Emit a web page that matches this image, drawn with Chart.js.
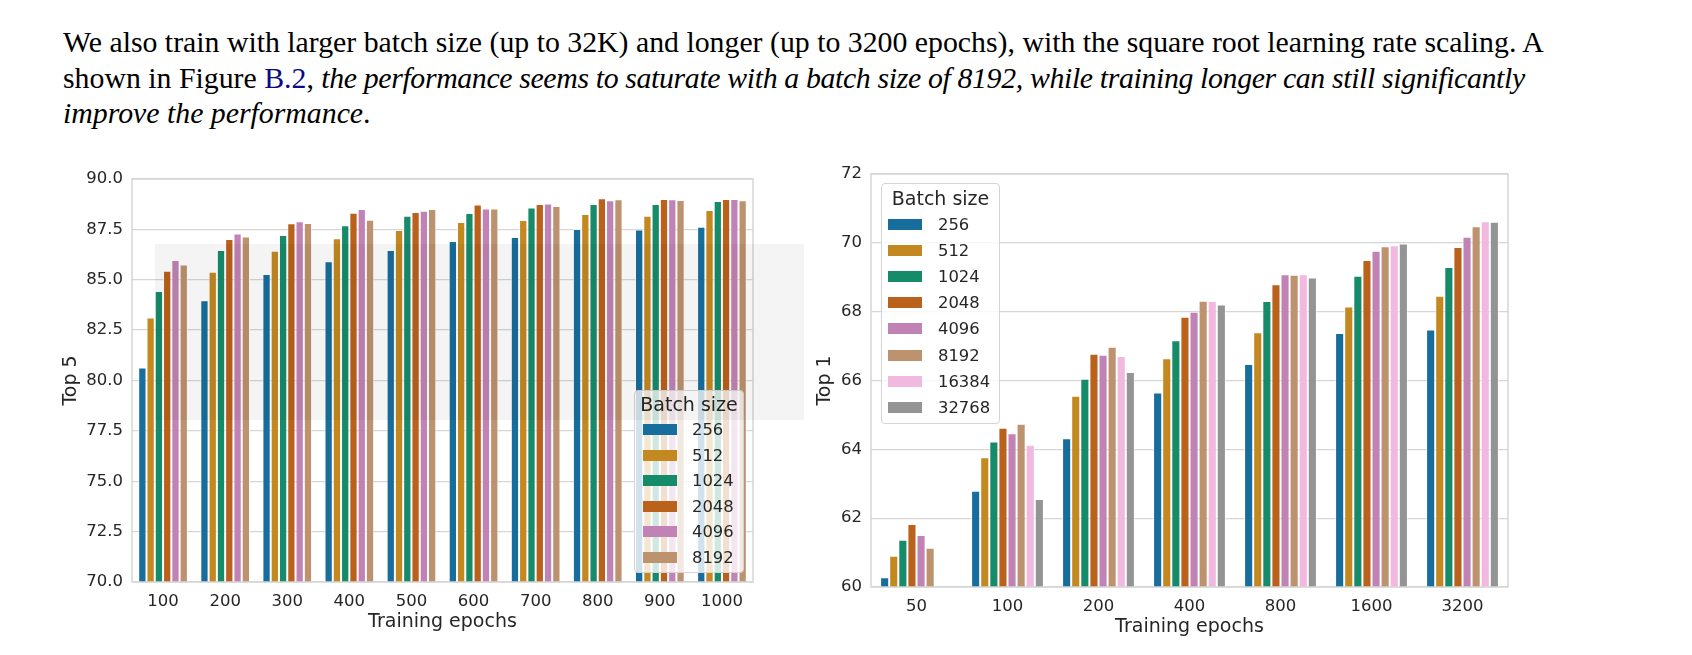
<!DOCTYPE html>
<html>
<head>
<meta charset="utf-8">
<script src="https://cdn.jsdelivr.net/npm/chart.js@4.4.0/dist/chart.umd.min.js"></script>
<style>
  body { margin: 0; width: 1692px; height: 655px; background: #fff; position: relative; overflow: hidden; font-family: "DejaVu Sans", sans-serif; }
  .para { position: absolute; left: 63px; font-family: "Liberation Serif", serif; font-size: 29.8px; line-height: 34px; white-space: nowrap; color: #000; }
  .para i.tight { letter-spacing: -0.35px; }
  .link { color: #0b0b85; }
  .chartbox { position: absolute; }
  .legend { position: absolute; background: rgba(255,255,255,0.8); border: 1px solid #d4d4d4; border-radius: 4px; box-sizing: border-box; color: #262626; }
  .legend .ltitle { position: absolute; left: 0; right: 0; text-align: center; font-size: 19px; line-height: 22px; }
  .legend .row { position: absolute; left: 0; right: 0; height: 22px; }
  .legend .sw { position: absolute; width: 34px; height: 11px; top: 5px; }
  .legend .lab { position: absolute; font-size: 16.4px; line-height: 22px; top: 0; }
  .haze { position: absolute; left: 155px; top: 244px; width: 649px; height: 176px; background: rgba(0,0,0,0.045); pointer-events: none; }
</style>
</head>
<body>

<div class="para" style="top:25px">We also train with larger batch size (up to 32K) and longer (up to 3200 epochs), with the square root learning rate scaling. A</div>
<div class="para" style="top:60.5px">shown in Figure <span class="link">B.2</span>, <i class="tight">the performance seems to saturate with a batch size of 8192, while training longer can still significantly</i></div>
<div class="para" style="top:96px"><i>improve the performance</i>.</div>

<div class="chartbox" style="left:0px;top:150px"><canvas id="top5" width="780" height="490"></canvas></div>
<div class="chartbox" style="left:790px;top:150px"><canvas id="top1" width="760" height="495"></canvas></div>

<div class="legend" id="leg5" style="left:634px;top:390px;width:110px;height:183px"></div>
<div class="legend" id="leg1" style="left:881px;top:183px;width:119px;height:241px"></div>

<div class="haze"></div>

<script>
// batch sizes and their colours (seaborn colorblind, desaturated)
const batchSizes = ['256', '512', '1024', '2048', '4096', '8192', '16384', '32768'];
const barColors = ['#176d9c', '#c38820', '#168b6a', '#ba611b', '#c183b5', '#bd926e', '#f1b8e0', '#949494'];

// left: Top 5 accuracy
const epochsTop5 = ['100', '200', '300', '400', '500', '600', '700', '800', '900', '1000'];
const top5_256  = [80.65, 83.98, 85.29, 85.92, 86.48, 86.92, 87.12, 87.52, 87.50, 87.63];
const top5_512  = [83.13, 85.40, 86.44, 87.06, 87.47, 87.87, 87.97, 88.26, 88.18, 88.46];
const top5_1024 = [84.44, 86.48, 87.22, 87.70, 88.18, 88.31, 88.59, 88.76, 88.76, 88.91];
const top5_2048 = [85.45, 87.02, 87.80, 88.33, 88.36, 88.73, 88.76, 89.04, 89.01, 89.01];
const top5_4096 = [85.98, 87.30, 87.90, 88.51, 88.43, 88.54, 88.78, 88.94, 88.99, 89.01];
const top5_8192 = [85.76, 87.15, 87.82, 87.98, 88.51, 88.54, 88.66, 88.99, 88.96, 88.94];
const top5Ticks = [70.0, 72.5, 75.0, 77.5, 80.0, 82.5, 85.0, 87.5, 90.0];

// right: Top 1 accuracy
const epochsTop1 = ['50', '100', '200', '400', '800', '1600', '3200'];
const top1_256   = [60.28, 62.80, 64.32, 65.65, 66.48, 67.38, 67.48];
const top1_512   = [60.91, 63.77, 65.56, 66.65, 67.40, 68.15, 68.46];
const top1_1024  = [61.37, 64.23, 66.05, 67.17, 68.31, 69.04, 69.30];
const top1_2048  = [61.83, 64.63, 66.78, 67.85, 68.80, 69.50, 69.88];
const top1_4096  = [61.51, 64.47, 66.75, 68.00, 69.09, 69.77, 70.18];
const top1_8192  = [61.14, 64.74, 66.98, 68.32, 69.07, 69.90, 70.48];
const top1_16384 = [null, 64.13, 66.71, 68.31, 69.09, 69.93, 70.63];
const top1_32768 = [null, 62.56, 66.25, 68.21, 68.99, 69.98, 70.61];
const top1Ticks = [60, 62, 64, 66, 68, 70, 72];

const textColor = '#262626';
const gridColor = '#d6d6d6';

// seaborn style frame round the plot area
const framePlugin = {
  id: 'frame',
  afterDatasetsDraw(chart) {
    const a = chart.chartArea;
    const ctx = chart.ctx;
    ctx.save();
    ctx.strokeStyle = gridColor;
    ctx.lineWidth = 1.5;
    ctx.strokeRect(a.left, a.top, a.right - a.left, a.bottom - a.top);
    ctx.restore();
  }
};

function makeDatasets(seriesList) {
  return seriesList.map((values, i) => ({
    label: batchSizes[i],
    data: values,
    backgroundColor: barColors[i],
    borderColor: 'rgba(255,255,255,0.7)',
    borderWidth: 1,
    categoryPercentage: 0.8,
    barPercentage: 1.0
  }));
}

function makeChart(id, labels, seriesList, yTicks, yTitle, fmt, pad, yWidth, xHeight) {
  new Chart(document.getElementById(id), {
    type: 'bar',
    data: { labels: labels, datasets: makeDatasets(seriesList) },
    options: {
      responsive: false,
      animation: false,
      layout: { padding: pad },
      plugins: { legend: { display: false }, tooltip: { enabled: false } },
      scales: {
        x: {
          grid: { display: false, drawTicks: false },
          border: { display: false },
          ticks: { color: textColor, font: { family: 'DejaVu Sans', size: 16.5 }, padding: 10 },
          title: { display: true, text: 'Training epochs', color: textColor, font: { family: 'DejaVu Sans', size: 19 } },
          afterFit: s => { s.height = xHeight; }
        },
        y: {
          min: yTicks[0],
          max: yTicks[yTicks.length - 1],
          afterBuildTicks: s => { s.ticks = yTicks.map(v => ({ value: v })); },
          grid: { color: gridColor, lineWidth: 1.3, drawTicks: false },
          border: { display: false },
          ticks: { color: textColor, font: { family: 'DejaVu Sans', size: 16.5 }, padding: 9, callback: v => fmt(v) },
          title: { display: true, text: yTitle, color: textColor, font: { family: 'DejaVu Sans', size: 19 } },
          afterFit: s => { s.width = yWidth; }
        }
      }
    },
    plugins: [framePlugin]
  });
}

makeChart('top5', epochsTop5,
  [top5_256, top5_512, top5_1024, top5_2048, top5_4096, top5_8192],
  top5Ticks, 'Top 5', v => v.toFixed(1),
  { left: 56, top: 29, right: 27, bottom: 3 }, 76, 55);

makeChart('top1', epochsTop1,
  [top1_256, top1_512, top1_1024, top1_2048, top1_4096, top1_8192, top1_16384, top1_32768],
  top1Ticks, 'Top 1', v => String(v),
  { left: 20, top: 24, right: 42, bottom: 3 }, 61, 55);

// legends drawn as html boxes
function makeLegend(id, count, cfg) {
  const box = document.getElementById(id);
  const t = document.createElement('div');
  t.className = 'ltitle';
  t.style.top = (cfg.titleY - 11) + 'px';
  t.textContent = 'Batch size';
  box.appendChild(t);
  for (let i = 0; i < count; i++) {
    const row = document.createElement('div');
    row.className = 'row';
    row.style.top = (cfg.firstY + i * cfg.step - 11) + 'px';
    const sw = document.createElement('div');
    sw.className = 'sw';
    sw.style.left = cfg.swX + 'px';
    sw.style.background = barColors[i];
    const lab = document.createElement('div');
    lab.className = 'lab';
    lab.style.left = cfg.labX + 'px';
    lab.textContent = batchSizes[i];
    row.appendChild(sw);
    row.appendChild(lab);
    box.appendChild(row);
  }
}

makeLegend('leg5', 6, { titleY: 13, firstY: 39, step: 25.5, swX: 8, labX: 57 });
makeLegend('leg1', 8, { titleY: 14, firstY: 41, step: 26.1, swX: 6, labX: 56 });
</script>
</body>
</html>
